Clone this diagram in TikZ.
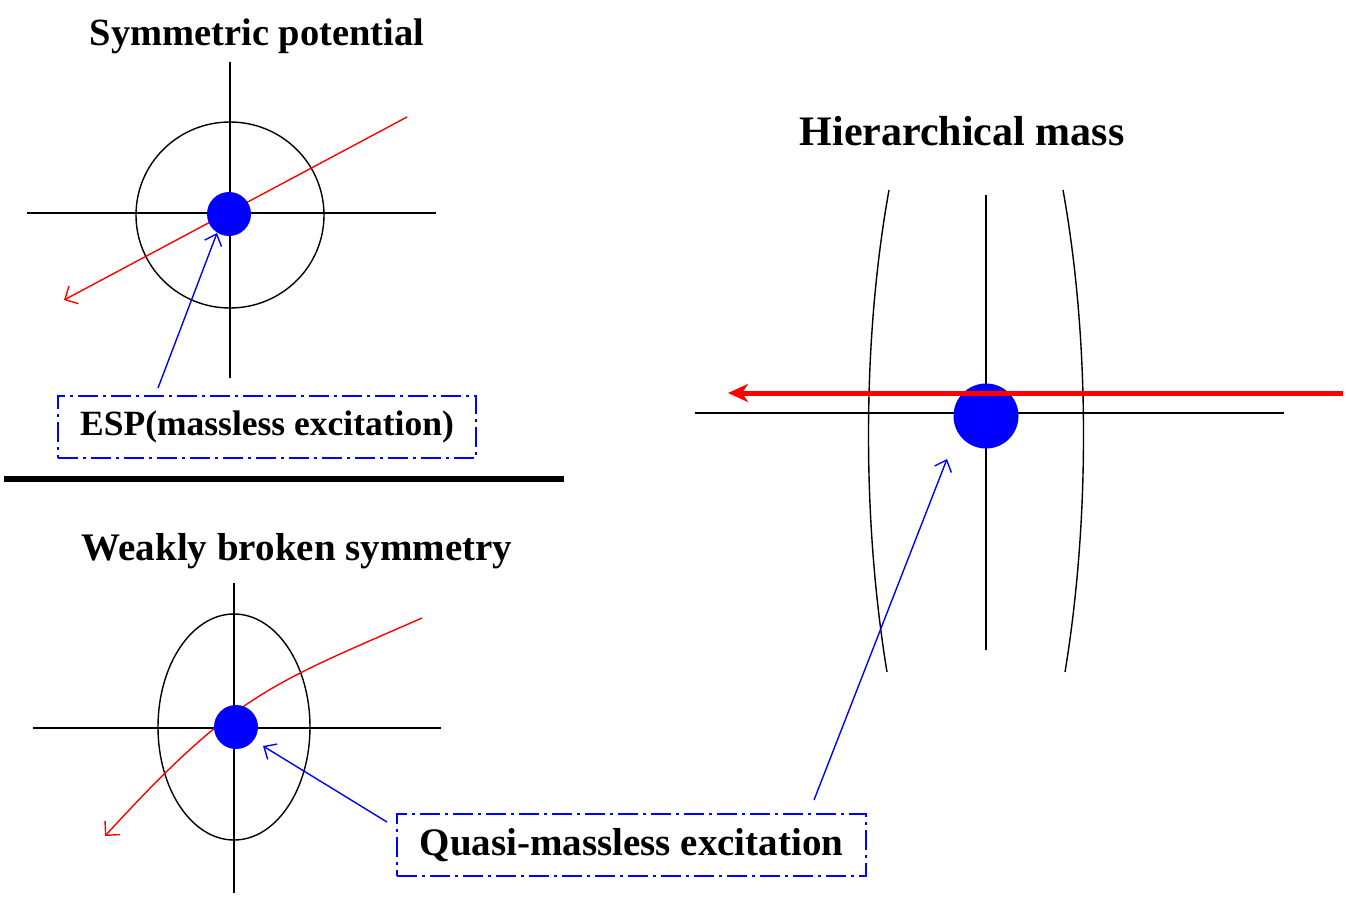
\documentclass[tikz,border=0pt]{standalone}
\usepackage{fontspec}
\setmainfont{Liberation Serif}
\usetikzlibrary{arrows.meta}
\begin{document}
\begin{tikzpicture}[x=1pt,y=-1pt,
  axis/.style={draw=black,line width=1.2pt},
  ring/.style={draw=black,line width=1.4pt},
  dot/.style={circle,fill=blue,inner sep=0pt},
  path red/.style={draw=red,line width=1.4pt,-{Straight Barb[length=10pt,width=20pt,line width=1.4pt]}},
  pointer/.style={draw=blue,line width=1.4pt,-{Straight Barb[length=10pt,width=18pt,line width=1.4pt]}},
  labelbox/.style={draw=blue,line width=1.5pt,dash pattern=on 20pt off 5pt on 3pt off 5pt,inner sep=0pt,font=\bfseries},
  title/.style={font=\bfseries,inner sep=0pt}]
\useasboundingbox (0,0) rectangle (1346,899);
% ---------- Symmetric potential ----------
\node[title,font=\bfseries\fontsize{38.5}{44}\selectfont] (t1) at (257,36) {Symmetric potential};
\coordinate (a1l) at (27,213); \coordinate (a1r) at (436,213);
\coordinate (a1t) at (230,62); \coordinate (a1b) at (230,378);
\draw[axis] (a1l) -- (a1r);
\draw[axis] (a1t) -- (a1b);
\draw[ring] (230,215) circle[x radius=94,y radius=93];
\coordinate (r1s) at (407,117); \coordinate (r1e) at (64,300);
\draw[path red] (r1s) -- (r1e);
\node[dot,minimum size=44pt] (d1) at (229,214) {};
\node[labelbox,minimum width=418pt,minimum height=62pt,font=\bfseries\fontsize{35.5}{40}\selectfont] (esp) at (267,427) {ESP(massless excitation)};
\coordinate (p1s) at (158,388); \coordinate (p1e) at (217,233);
\draw[pointer] (p1s) -- (p1e);
% separator
\coordinate (sepl) at (4,479); \coordinate (sepr) at (564,479);
\draw[line width=6pt] (sepl) -- (sepr);
% ---------- Weakly broken symmetry ----------
\node[title,font=\bfseries\fontsize{39}{44}\selectfont] (t2) at (297,551) {Weakly broken symmetry};
\coordinate (a2l) at (33,728); \coordinate (a2r) at (441,728);
\coordinate (a2t) at (234,583); \coordinate (a2b) at (234,893);
\draw[axis] (a2l) -- (a2r);
\draw[axis] (a2t) -- (a2b);
\draw[ring] (234,727) ellipse[x radius=76,y radius=113];
\coordinate (r2s) at (422,618); \coordinate (r2e) at (105,836);
\draw[path red] (r2s) .. controls (269,685) and (235,694) .. (r2e);
\node[dot,minimum size=44pt] (d2) at (236,727) {};
\node[labelbox,minimum width=469pt,minimum height=62pt,font=\bfseries\fontsize{39}{44}\selectfont] (qm) at (631.5,845) {Quasi-massless excitation};
\coordinate (p2s) at (387,822); \coordinate (p2e) at (263,746);
\draw[pointer] (p2s) -- (p2e);
% ---------- Hierarchical mass ----------
\node[title,font=\bfseries\fontsize{42}{48}\selectfont] (t3) at (962,131) {Hierarchical mass};
\coordinate (a3l) at (695,413); \coordinate (a3r) at (1284,413);
\coordinate (a3t) at (986,195); \coordinate (a3b) at (986,650);
\draw[axis] (a3l) -- (a3r);
\draw[axis] (a3t) -- (a3b);
\coordinate (lt) at (889,190); \coordinate (lb) at (887,672);
\coordinate (rt) at (1063,190); \coordinate (rb) at (1065,672);
\draw[ring] (lt) .. controls (862,340) and (862,520) .. (lb);
\draw[ring] (rt) .. controls (1090,340) and (1090,520) .. (rb);
\node[dot,minimum size=65pt] (d3) at (986,416) {};
\coordinate (r3s) at (1343,393); \coordinate (r3e) at (728,393);
\draw[draw=red,line width=5pt,-{Stealth[length=20pt,width=18pt,inset=6pt]}] (r3s) -- (r3e);
\coordinate (p3s) at (814,800); \coordinate (p3e) at (947,459);
\draw[pointer] (p3s) -- (p3e);
\end{tikzpicture}
\end{document}
